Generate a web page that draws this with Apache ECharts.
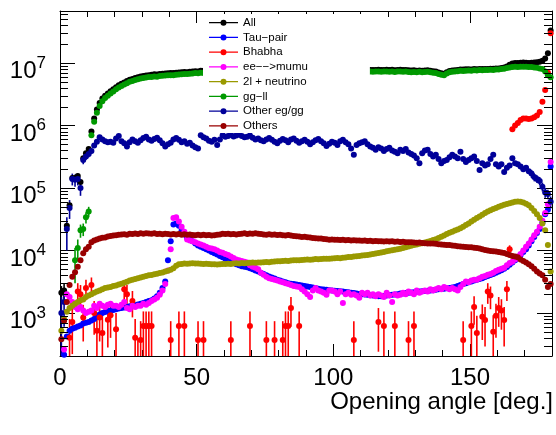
<!DOCTYPE html>
<html>
<head>
<meta charset="utf-8">
<script src="https://cdn.jsdelivr.net/npm/echarts@6/dist/echarts.min.js"></script>
<style>
  html, body { margin: 0; padding: 0; background: #fff; }
  #chart { width: 556px; height: 435px; }
</style>
</head>
<body>
<div id="chart"></div>
<script>
// Opening-angle distributions, 1-degree bins from 0 to 180 deg.
const angles = Array.from({ length: 180 }, (_, i) => i + 0.5);   // bin centres

const xTickLabels = [0, 50, 100, 150];
const yMinorTicks = [
  300, 400, 500, 600, 700, 800, 900,
  2000, 3000, 4000, 5000, 6000, 7000, 8000, 9000,
  20000, 30000, 40000, 50000, 60000, 70000, 80000, 90000,
  200000, 300000, 400000, 500000, 600000, 700000, 800000, 900000,
  2000000, 3000000, 4000000, 5000000, 6000000, 7000000, 8000000, 9000000,
  20000000, 30000000, 40000000, 50000000, 60000000
];

const allEvents = [
  2100, 2300, 25000, 53000, 145000, 145000, 155000, 125000, 300000, 360000,
  420000, 800000, 1300000, 1800000, 2300000, 2700000, 3000000, 3250000, 3550000, 3800000,
  4100000, 4400000, 4650000, 4900000, 5150000, 5400000, 5550000, 5750000, 5900000, 6100000,
  6200000, 6300000, 6400000, 6500000, 6600000, 6550000, 6700000, 6750000, 6800000, 6850000,
  6900000, 6900000, 7000000, 7050000, 7100000, 7200000, 7150000, 7250000, 7300000, 7400000,
  7350000, 7550000, 7500000, 7550000, 7600000, 7550000, 7600000, 7650000, 7600000, 7650000,
  7650000, 7700000, 7650000, 7700000, 7750000, 7700000, 7750000, 7800000, 7750000, 7800000,
  7800000, 7850000, 7800000, 7850000, 7900000, 7850000, 7900000, 7850000, 7900000, 7950000,
  7900000, 7950000, 7900000, 7950000, 8000000, 7950000, 8000000, 7950000, 8000000, 8000000,
  7950000, 8000000, 8050000, 8000000, 8050000, 8000000, 8050000, 8100000, 8050000, 8000000,
  8050000, 8000000, 7950000, 8000000, 7950000, 7900000, 7950000, 7900000, 7950000, 7900000,
  7850000, 7900000, 7850000, 7700000, 7750000, 7700000, 7800000, 7750000, 7700000, 7800000,
  7750000, 7800000, 7650000, 7750000, 7800000, 7700000, 7750000, 7650000, 7600000, 7650000,
  7550000, 7600000, 7500000, 7600000, 7650000, 7500000, 7400000, 7300000, 7050000, 6850000,
  6750000, 7150000, 7450000, 7600000, 7650000, 7750000, 7900000, 7850000, 7950000, 7950000,
  7900000, 8000000, 7950000, 8000000, 8000000, 8050000, 8000000, 8100000, 8100000, 8150000,
  8200000, 8300000, 8450000, 8800000, 9400000, 9800000, 10000000, 10000000, 10100000, 10150000,
  10100000, 10050000, 10100000, 10200000, 10300000, 10500000, 10900000, 11800000, 14300000, 33000000
];
const allErrBins = [0, 1];
const allErr = [600, 650];

const tauPair = [
  null, 215, 420, 520, 560, 580, 610, 630, 680, 700,
  720, 760, 800, 870, 950, 1000, 1040, 1070, 1100, 1120,
  1150, 1180, 1200, 1220, 1250, 1280, 1300, 1330, 1370, 1400,
  1450, 1500, 1550, 1600, 1700, 1850, 2100, 2500, 3200, 7000,
  14000, 26000, 27000, 25000, 21000, 18000, 16000, 15000, 14000, 13000,
  12000, 11500, 11000, 10500, 10000, 9500, 9000, 8600, 8200, 7800,
  7400, 7000, 6600, 6300, 6000, 5800, 5600, 5500, 5400, 5200,
  5000, 4800, 4600, 4400, 4200, 4000, 3850, 3700, 3550, 3400,
  3300, 3200, 3100, 3000, 2950, 2900, 2850, 2800, 2750, 2700,
  2650, 2600, 2550, 2500, 2450, 2400, 2380, 2350, 2320, 2300,
  2270, 2250, 2220, 2200, 2170, 2150, 2100, 2080, 2050, 2020,
  2000, 1980, 1950, 1930, 1900, 1880, 1850, 1850, 1870, 1900,
  1920, 1950, 1980, 2000, 2050, 2060, 2080, 2100, 2120, 2150,
  2170, 2200, 2220, 2250, 2270, 2300, 2320, 2350, 2400, 2430,
  2450, 2480, 2500, 2550, 2600, 2700, 2800, 2900, 3000, 3100,
  3200, 3300, 3400, 3500, 3600, 3750, 3900, 4050, 4200, 4400,
  4600, 4850, 5100, 5450, 5900, 6400, 7000, 7700, 8500, 9500,
  10500, 12000, 14000, 16500, 19000, 22000, 28000, 38000, 45000, 220000
];

// Bhabha: only bins with entries
const bhabhaBins = [
  3, 4, 6, 7, 8, 9, 11, 12, 13, 14, 15, 17, 18, 20, 23, 24, 26, 27, 28, 29,
  30, 31, 32, 33, 40, 43, 45, 50, 52, 62, 69, 75, 78, 81, 82, 83, 84, 87,
  107, 116, 118, 122, 127, 129, 147, 150, 151, 152, 154, 155, 156, 157, 158, 159,
  160, 161, 162, 163, 164, 165, 166, 167, 168, 169, 170, 171, 172, 173, 174, 175,
  176, 177, 178, 179
];
const bhabha = [
  400, 720, 2200, 2000, 850, 2500, 2800, 1000, 520, 850, 480, 780, 920, 550, 2400, 2000, 1550, 400, 190, 370,
  620, 620, 620, 620, 370, 620, 620, 370, 370, 370, 620, 370, 370, 370, 620, 620, 1200, 620,
  370, 720, 620, 620, 370, 620, 370, 620, 1250, 480, 870, 770, 2200, 1900, 500, 900,
  1200, 1100, 770, 2400, 10500, 870000, 1000000, 1100000, 1230000, 1300000, 1300000, 1270000, 1300000, 1350000, 1450000, 1650000,
  2400000, 3700000, 7000000, 30000000
];
const bhabhaErr = [
  400, 500, 800, 800, 500, 900, 900, 550, 450, 500, 450, 500, 520, 450, 850, 800, 700, 400, 190, 370,
  440, 440, 440, 440, 370, 440, 440, 370, 370, 370, 440, 370, 370, 370, 440, 440, 600, 440,
  370, 480, 440, 440, 370, 440, 370, 440, 600, 420, 500, 480, 800, 750, 420, 500,
  600, 560, 480, 850, 1600, 15000, 16000, 17000, 18000, 18000, 18000, 18000, 18000, 19000, 20000, 21000,
  26000, 32000, 45000, 90000
];

const eeMumu = [
  null, 260, 2000, 1800, 1500, 1250, 1150, 1250, 1100, 1000,
  1050, 1100, 1300, 1200, 1400, 1300, 1250, 1350, 1400, 1300,
  1300, 1250, 1350, 1500, 1200, 1150, 1300, 1250, 1300, 1300,
  1400, 1350, 1450, 1550, 1650, 1750, 1950, 2300, 2900, 4800,
  10500, 33000, 34000, 29000, 24000, 20000, 15000, 14500, 14000, 13500,
  13000, 12500, 12000, 11500, 11000, 10800, 10500, 10000, 9500, 9200,
  8800, 8500, 8000, 7600, 7200, 7000, 6800, 6600, 6400, 5800,
  5500, 5300, 5000, 4400, 4100, 3800, 3600, 3500, 3400, 3300,
  3200, 3100, 3000, 2900, 2800, 2700, 2650, 2600, 2400, 2200,
  2000, 1800, 2300, 2500, 2300, 2200, 2100, 1950, 2300, 2300,
  2200, 2000, 2200, 1450, 2000, 2100, 1950, 2000, 1900, 1750,
  2100, 2000, 2100, 1900, 2000, 1850, 2000, 1900, 1800, 2100,
  1900, 1500, 2000, 1900, 1950, 2100, 2000, 2200, 2100, 2000,
  2300, 2100, 2200, 2300, 2200, 2400, 2300, 2400, 2500, 2400,
  2600, 2500, 2400, 2500, 2400, 2300, 2600, 2900, 3200, 3100,
  3300, 3400, 3400, 3600, 3800, 3900, 4100, 4200, 4400, 4700,
  4900, 5100, 5300, 5800, 6300, 6600, 7200, 8000, 8800, 10000,
  11500, 13000, 15000, 17500, 20000, 24000, 30000, 40000, 55000, 260000
];

const twoLNu = [
  520, 800, 1050, 1200, 1300, 1400, 1500, 1600, 1650, 1800,
  1900, 2000, 2100, 2200, 2300, 2400, 2500, 2550, 2600, 2700,
  2750, 2850, 2950, 3050, 3150, 3300, 3400, 3500, 3600, 3700,
  3800, 3900, 4000, 4050, 4150, 4250, 4350, 4450, 4600, 4750,
  4900, 5200, 5700, 6000, 6100, 6200, 6150, 6200, 6250, 6200,
  6200, 6150, 6100, 6150, 6100, 6050, 6000, 5950, 6050, 6100,
  6100, 6150, 6100, 6200, 6250, 6200, 6300, 6250, 6300, 6350,
  6400, 6350, 6400, 6450, 6500, 6550, 6500, 6600, 6650, 6700,
  6750, 6800, 6850, 6800, 6900, 6950, 7000, 6950, 7050, 7100,
  7150, 7100, 7200, 7300, 7250, 7300, 7350, 7400, 7350, 7450,
  7500, 7600, 7550, 7650, 7750, 7850, 7900, 8000, 8100, 8200,
  8300, 8400, 8500, 8650, 8800, 8950, 9100, 9300, 9500, 9700,
  9900, 10100, 10300, 10500, 10700, 11000, 11300, 11600, 11900, 12200,
  12500, 12800, 13100, 13400, 13800, 14200, 14700, 15200, 15900, 16600,
  17400, 18300, 19200, 20000, 20800, 21700, 22700, 24000, 25500, 27000,
  29000, 31000, 33000, 35000, 37500, 40000, 42000, 44000, 46000, 48000,
  50000, 52000, 54000, 55500, 57000, 58500, 60000, 61000, 60500, 58500,
  56000, 53000, 48000, 43000, 38000, 33000, 27000, 21000, 12200, 4600
];

const ggll = [
  null, null, null, null, null, 7000, 11000, 21000, 22000, 34000,
  42000, 700000, 1150000, 1600000, 2050000, 2450000, 2750000, 3000000, 3250000, 3500000,
  3800000, 4050000, 4300000, 4550000, 4750000, 5000000, 5150000, 5350000, 5500000, 5650000,
  5750000, 5850000, 5950000, 6000000, 6100000, 6050000, 6200000, 6250000, 6300000, 6350000,
  6400000, 6350000, 6500000, 6550000, 6600000, 6700000, 6650000, 6750000, 6800000, 6900000,
  6850000, 7000000, 6950000, 7000000, 7050000, 7000000, 7050000, 7100000, 7050000, 7100000,
  7100000, 7150000, 7100000, 7150000, 7200000, 7150000, 7200000, 7150000, 7200000, 7250000,
  7200000, 7250000, 7200000, 7250000, 7300000, 7250000, 7300000, 7250000, 7300000, 7300000,
  7250000, 7300000, 7300000, 7350000, 7300000, 7350000, 7300000, 7350000, 7300000, 7350000,
  7300000, 7350000, 7400000, 7350000, 7400000, 7350000, 7400000, 7350000, 7400000, 7350000,
  7400000, 7350000, 7300000, 7350000, 7300000, 7250000, 7300000, 7250000, 7300000, 7250000,
  7200000, 7250000, 7200000, 7300000, 7250000, 7350000, 7300000, 7250000, 7350000, 7300000,
  7250000, 7350000, 7200000, 7300000, 7350000, 7250000, 7300000, 7200000, 7150000, 7200000,
  7150000, 7250000, 7100000, 7200000, 7250000, 7100000, 7000000, 6900000, 6700000, 6500000,
  6400000, 6800000, 7100000, 7250000, 7300000, 7400000, 7500000, 7450000, 7550000, 7600000,
  7550000, 7650000, 7600000, 7700000, 7650000, 7750000, 7700000, 7800000, 7750000, 7850000,
  7900000, 8000000, 8100000, 8300000, 8500000, 8600000, 8700000, 8650000, 8700000, 8750000,
  8700000, 8650000, 8600000, 8500000, 8400000, 8200000, 8000000, 7300000, 6400000, 5900000
];
const ggllErrBins = [5, 6, 7, 8, 9, 10, 11];
const ggllErr = [4000, 4000, 5000, 5000, 7000, 8000, 40000];

const otherEgGg = [
  1000, 1500, 22000, 48000, 140000, 135000, 140000, 100000, 280000, 320000,
  350000, 390000, 480000, 550000, 650000, 600000, 560000, 540000, 550000, 530000,
  620000, 680000, 560000, 520000, 460000, 540000, 600000, 560000, 530000, 580000,
  630000, 660000, 600000, 570000, 610000, 640000, 580000, 520000, 460000, 500000,
  530000, 600000, 630000, 590000, 540000, 560000, 510000, 530000, 480000, 450000,
  430000, 700000, 650000, 620000, 570000, 550000, 590000, 490000, 600000, 700000,
  660000, 680000, 710000, 670000, 690000, 720000, 680000, 650000, 660000, 690000,
  640000, 600000, 620000, 580000, 560000, 600000, 630000, 590000, 550000, 520000,
  570000, 610000, 580000, 540000, 600000, 620000, 570000, 530000, 560000, 590000,
  550000, 500000, 540000, 580000, 610000, 560000, 520000, 470000, 510000, 550000,
  530000, 490000, 560000, 590000, 540000, 500000, 430000, 340000, 490000, 520000,
  540000, 560000, 500000, 460000, 440000, 410000, 450000, 430000, 390000, 420000,
  440000, 400000, 380000, 360000, 410000, 390000, 420000, 370000, 350000, 330000,
  300000, 250000, 360000, 400000, 410000, 350000, 320000, 340000, 290000, 250000,
  270000, 280000, 310000, 340000, 320000, 300000, 380000, 290000, 260000, 280000,
  300000, 320000, 270000, 195000, 250000, 230000, 240000, 290000, 340000, 240000,
  220000, 240000, 180000, 210000, 230000, 300000, 250000, 240000, 220000, 200000,
  210000, 185000, 170000, 150000, 140000, 130000, 105000, 85000, 80000, 60000
];
const otherEgGgErrBins = [0, 1, 2, 3, 4, 5, 6, 7, 8, 9, 10, 11, 172, 173, 174, 175, 176, 177, 178, 179];
const otherEgGgErr = [800, 900, 12000, 16000, 30000, 30000, 30000, 25000, 40000, 40000, 40000, 35000,
  25000, 22000, 20000, 20000, 17000, 15000, 14000, 13000];

const others = [
  380, 750, 1500, 2800, 3800, 4500, 5500, 7000, 9000, 10500,
  11500, 13500, 14500, 15000, 15500, 16000, 16200, 16800, 17000, 17400,
  17500, 17800, 18000, 18200, 17900, 18500, 18300, 18700, 18400, 18800,
  18600, 18900, 18700, 18500, 18800, 18400, 18600, 18200, 18500, 18300,
  18100, 18400, 18000, 18300, 17900, 18200, 17800, 18000, 17700, 17500,
  17800, 17600, 17900, 17500, 17700, 17400, 17600, 17800, 18100, 18500,
  18300, 18600, 18200, 18400, 18000, 18300, 18600, 18800, 18400, 18700,
  18500, 18800, 18600, 18300, 18100, 17900, 18200, 17800, 18000, 17700,
  17900, 17600, 17400, 17700, 17300, 17100, 16900, 16700, 16500, 16600,
  16300, 16100, 15900, 15700, 15500, 15600, 15300, 15100, 14900, 15000,
  14800, 14900, 14700, 14800, 14600, 14700, 14500, 14600, 14400, 14500,
  14300, 14400, 14200, 14300, 14100, 14200, 14000, 14100, 13900, 14000,
  13900, 14000, 13800, 13900, 13700, 13800, 13600, 13500, 13600, 13400,
  13300, 13400, 13200, 13100, 13000, 12900, 13000, 12800, 12600, 12500,
  12400, 12300, 12200, 12000, 11900, 11700, 11600, 11500, 11400, 11300,
  11300, 11100, 11000, 10800, 10500, 10200, 10000, 9800, 9700, 9600,
  9500, 9300, 9100, 8800, 8500, 8200, 8000, 7800, 7200, 6800,
  6400, 6000, 5600, 5100, 4600, 4300, 4000, 3400, 2600, 2900
];

const Y_MIN = 205;
const Y_MAX = 6.8e7;
const FONT = '"Liberation Sans", Arial, Helvetica, sans-serif';

function points(values) {
  const out = [];
  values.forEach((v, i) => { if (v != null) out.push([angles[i], v]); });
  return out;
}
function sparsePoints(bins, values) {
  return bins.map((b, k) => [angles[b], values[k]]);
}
function errorData(bins, values, errs) {
  return bins.map((b, k) => [angles[b], values[k], errs[k]]);
}
function errorDataFull(bins, series, errs) {
  return bins.map((b, k) => [angles[b], series[b], errs[k]]);
}

// vertical error bar, clamped to the frame
function renderErr(params, api) {
  const cs = params.coordSys;
  const x = api.value(0), v = api.value(1), e = api.value(2);
  const top = api.coord([x, v + e]);
  const yTop = Math.max(top[1], cs.y);
  const lo = v - e;
  const yBot = lo > Y_MIN ? api.coord([x, lo])[1] : cs.y + cs.height;
  return {
    type: 'line',
    shape: { x1: top[0], y1: yTop, x2: top[0], y2: yBot },
    style: { stroke: api.visual('color'), lineWidth: 1.6 }
  };
}

// log minor ticks on both vertical frame edges
function renderMinorTick(params, api) {
  const cs = params.coordSys;
  const y = Math.round(api.coord([0, api.value(1)])[1]) + 0.5;
  return {
    type: 'group',
    children: [
      { type: 'line', shape: { x1: cs.x, y1: y, x2: cs.x + 8, y2: y }, style: { stroke: '#000', lineWidth: 1 } },
      { type: 'line', shape: { x1: cs.x + cs.width, y1: y, x2: cs.x + cs.width - 8, y2: y }, style: { stroke: '#000', lineWidth: 1 } }
    ]
  };
}

function scatter(name, color, data) {
  return {
    name, type: 'scatter', data, symbol: 'circle', symbolSize: 6,
    itemStyle: { color, opacity: 1 }, clip: true, silent: true, z: 2
  };
}
function bars(color, data) {
  return { type: 'custom', data, renderItem: renderErr, itemStyle: { color }, clip: true, silent: true, z: 2 };
}

const C = {
  all: '#000000', tau: '#0000ff', bhabha: '#ff0000', mumu: '#ff00ff',
  nu: '#999900', ggll: '#009900', other: '#000099', others: '#990000'
};
const NAMES = ['All', 'Tau\u2212pair', 'Bhabha', 'ee\u2212\u2212>mumu', '2l + neutrino', 'gg\u2212ll', 'Other eg/gg', 'Others'];

function isPow10(v) {
  const l = Math.log10(v);
  return Math.abs(l - Math.round(l)) < 1e-6;
}

const xBase = { type: 'value', min: 0, max: 180, gridIndex: 0, splitLine: { show: false } };
const yBase = { type: 'log', logBase: 10, min: Y_MIN, max: Y_MAX, gridIndex: 0, splitLine: { show: false } };

const option = {
  animation: false,
  backgroundColor: '#fff',
  grid: { left: 60, right: 4, top: 11, bottom: 79, outerBoundsMode: 'none', containLabel: false },
  title: {
    text: 'Opening angle [deg.]', right: 3, top: 390, padding: 0,
    textStyle: { fontFamily: FONT, fontSize: 24, fontWeight: 'normal', color: '#000' }
  },
  legend: {
    orient: 'vertical', left: 203, top: 14,
    padding: [2.7, 62, 1, 6], itemGap: 2.75, itemWidth: 29, itemHeight: 6,
    icon: 'path://M0,2.4H29V3.6H0Z M17.5,3A3,3 0 1 1 11.5,3A3,3 0 1 1 17.5,3Z',
    backgroundColor: '#fff', selectedMode: false,
    textStyle: { fontFamily: FONT, fontSize: 11.5, lineHeight: 12, color: '#000' },
    data: NAMES
  },
  xAxis: [
    Object.assign({}, xBase, {
      position: 'bottom', interval: 50,
      axisLine: { show: true, onZero: false, lineStyle: { color: '#000', width: 1 } },
      axisTick: { show: true, inside: true, length: 12, lineStyle: { color: '#000' } },
      axisLabel: {
        show: true, margin: 10, fontFamily: FONT, fontSize: 24, color: '#000',
        formatter: v => (xTickLabels.indexOf(v) >= 0 ? String(v) : '')
      }
    }),
    Object.assign({}, xBase, {
      position: 'bottom', interval: 10,
      axisLine: { show: false, onZero: false },
      axisTick: { show: true, inside: true, length: 6, lineStyle: { color: '#000' } },
      axisLabel: { show: false }
    }),
    Object.assign({}, xBase, {
      position: 'top', interval: 50,
      axisLine: { show: true, onZero: false, lineStyle: { color: '#000', width: 1 } },
      axisTick: { show: true, inside: true, length: 12, lineStyle: { color: '#000' } },
      axisLabel: { show: false }
    }),
    Object.assign({}, xBase, {
      position: 'top', interval: 10,
      axisLine: { show: false, onZero: false },
      axisTick: { show: true, inside: true, length: 6, lineStyle: { color: '#000' } },
      axisLabel: { show: false }
    })
  ],
  yAxis: [
    Object.assign({}, yBase, {
      position: 'left',
      axisLine: { show: true, onZero: false, lineStyle: { color: '#000', width: 1 } },
      axisTick: { show: true, inside: true, length: 15, lineStyle: { color: '#000' } },
      axisLabel: {
        show: true, margin: 14, color: '#000', fontFamily: FONT,
        formatter: v => (isPow10(v) ? '{b|10}{s|' + Math.round(Math.log10(v)) + '}' : ''),
        rich: {
          b: { fontFamily: FONT, fontSize: 24, color: '#000', padding: [17, 0, 0, 0] },
          s: { fontFamily: FONT, fontSize: 17, color: '#000' }
        }
      }
    }),
    Object.assign({}, yBase, {
      position: 'right',
      axisLine: { show: true, onZero: false, lineStyle: { color: '#000', width: 1 } },
      axisTick: { show: true, inside: true, length: 15, lineStyle: { color: '#000' } },
      axisLabel: { show: false }
    })
  ],
  series: [
    bars(C.all, errorDataFull(allErrBins, allEvents, allErr)),
    scatter(NAMES[0], C.all, points(allEvents)),
    scatter(NAMES[1], C.tau, points(tauPair)),
    bars(C.bhabha, errorData(bhabhaBins, bhabha, bhabhaErr)),
    scatter(NAMES[2], C.bhabha, sparsePoints(bhabhaBins, bhabha)),
    scatter(NAMES[3], C.mumu, points(eeMumu)),
    scatter(NAMES[4], C.nu, points(twoLNu)),
    bars(C.ggll, errorDataFull(ggllErrBins, ggll, ggllErr)),
    scatter(NAMES[5], C.ggll, points(ggll)),
    bars(C.other, errorDataFull(otherEgGgErrBins, otherEgGg, otherEgGgErr)),
    scatter(NAMES[6], C.other, points(otherEgGg)),
    scatter(NAMES[7], C.others, points(others)),
    {
      type: 'custom', silent: true, z: 5,
      data: yMinorTicks.map(v => [0, v]),
      renderItem: renderMinorTick
    }
  ]
};

const chart = echarts.init(document.getElementById('chart'), null, { renderer: 'canvas' });
chart.setOption(option);
</script>
</body>
</html>
